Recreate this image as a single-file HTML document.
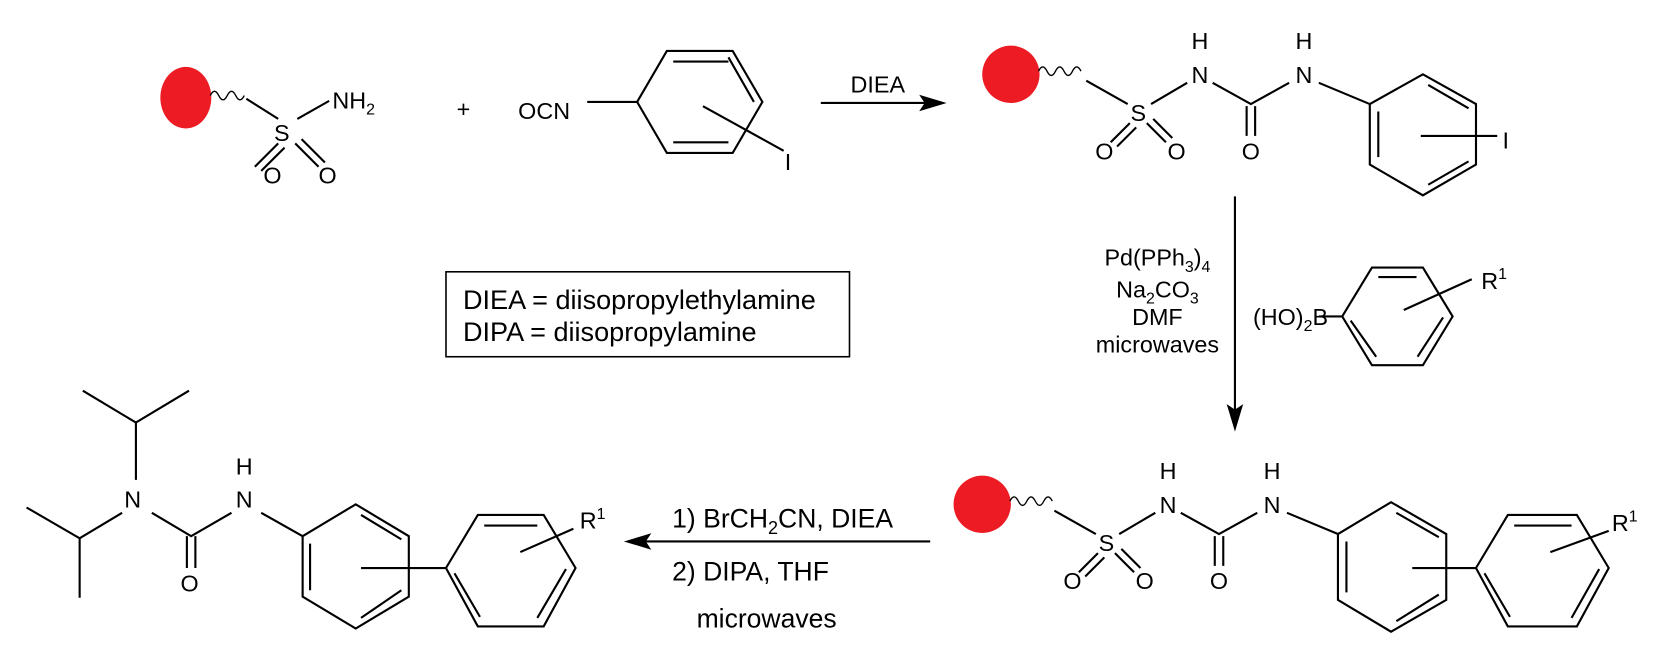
<!DOCTYPE html>
<html><head><meta charset="utf-8"><style>
html,body{margin:0;padding:0;background:#fff}
svg{display:block}
text{font-family:"Liberation Sans",Arial,sans-serif;font-size:22px;fill:#000}
.s{font-size:15px}
text.b,.b text{font-size:25px}
.bx text{font-size:25.5px}
.b .s{font-size:17px}
</style></head><body>
<svg width="1665" height="671" viewBox="0 0 1568 632" preserveAspectRatio="none" xmlns="http://www.w3.org/2000/svg" stroke="#000" stroke-width="2" fill="none">
<g fill="#ed1c24" stroke="none">
<ellipse cx="175" cy="92" rx="24" ry="29"/>
<circle cx="952" cy="70" r="27"/>
<circle cx="925" cy="475" r="27"/>
</g>
<path stroke-width="1.3" d="M198 90 q4 -8 8 0 q4 8 8 0 q4 -8 8 0 q4 8 8 0 M978 67 q4 -8 8 0 q4 8 8 0 q4 -8 8 0 q4 8 8 0 q4 -8 8 0 M951 472 q4 -8 8 0 q4 8 8 0 q4 -8 8 0 q4 8 8 0 q4 -8 8 0"/>
<path d="M232 93 L262 112 M280 112 L310 95 M262 135 L240 157 M268 139 L246 161 M278 135 L300 157 M284 131 L306 153"/>
<g stroke="none" fill="#000">
<text x="258" y="133">S</text>
<text x="313" y="102">NH<tspan class="s" dy="6">2</tspan></text>
<text x="248" y="173">O</text>
<text x="300" y="173">O</text>
<text x="430" y="110">+</text>
<text x="488" y="112">OCN</text>
<text x="801" y="87">DIEA</text>
<text x="739" y="160">I</text>
</g>
<path d="M553 96 L600 96"/>
<path d="M600 96 L628 48 L690 48 L718 96 L690 144 L628 144 Z M634 58 L686 58 M710 96 L686 54 M686 134 L634 134 M662 100 L738 142"/>
<path d="M773 97 L875 97"/><path d="M888 97 L868 91 L872 97 L868 103 Z" fill="#000"/>
<g id="chain">
<path d="M1023 76 L1062 98 M1084 98 L1118 78 M1142 78 L1178 98 L1214 78 M1242 78 L1290 98 M1064 116 L1046 134 M1070 120 L1052 138 M1080 116 L1098 134 M1086 112 L1104 130 M1174 100 L1174 128 M1182 100 L1182 128"/>
<g stroke="none" fill="#000" text-anchor="middle">
<text x="1072" y="114">S</text>
<text x="1130" y="78">N</text><text x="1130" y="46">H</text>
<text x="1228" y="78">N</text><text x="1228" y="46">H</text>
<text x="1040" y="150">O</text><text x="1108" y="150">O</text><text x="1178" y="150">O</text>
</g>
</g>
<g stroke="none" fill="#000"><text x="1415" y="140">I</text></g>
<path d="M1290 98 L1340 70 L1390 98 L1390 155 L1340 184 L1290 155 Z M1298 105 L1298 148 M1345 80 L1383 102 M1383 152 L1345 174 M1338 128 L1410 128"/>
<path d="M1163 185 L1163 390"/><path d="M1163 403 L1157 383 L1163 387 L1169 383 Z" fill="#000"/>
<g stroke="none" fill="#000" text-anchor="middle">
<text x="1090" y="250">Pd(PPh<tspan class="s" dy="6">3</tspan><tspan dy="-6">)</tspan><tspan class="s" dy="6">4</tspan></text>
<text x="1090" y="280">Na<tspan class="s" dy="6">2</tspan><tspan dy="-6">CO</tspan><tspan class="s" dy="6">3</tspan></text>
<text x="1090" y="306">DMF</text>
<text x="1090" y="332">microwaves</text>
</g>
<g stroke="none" fill="#000">
<text x="1180" y="306">(HO)<tspan class="s" dy="6">2</tspan><tspan dy="-6">B</tspan></text>
<text x="1395" y="272">R<tspan class="s" dy="-9">1</tspan></text>
</g>
<path d="M1242 298 L1264 298 M1264 298 L1292 252 L1340 252 L1368 298 L1340 344 L1292 344 Z M1298 261 L1334 261 M1359 299 L1335 336 M1272 302 L1296 336 M1322 292 L1386 263"/>
<rect x="420" y="256" width="380" height="80" stroke-width="1.5"/>
<g stroke="none" fill="#000" class="bx">
<text x="436" y="291">DIEA = diisopropylethylamine</text>
<text x="436" y="321">DIPA = diisopropylamine</text>
</g>
<use href="#chain" transform="translate(-30,405)"/>
<g stroke="none" fill="#000">
<text x="1518" y="500">R<tspan class="s" dy="-9">1</tspan></text>
</g>
<path d="M1260 503 L1310 473 L1362 503 L1362 565 L1310 595 L1260 565 Z M1268 510 L1268 558 M1315 483 L1355 506 M1355 560 L1315 585 M1330 535 L1390 535 M1390 535 L1420 485 L1485 485 L1515 535 L1485 590 L1420 590 Z M1426 495 L1480 495 M1506 536 L1480 582 M1398 540 L1422 581 M1460 520 L1515 500"/>
<path d="M876 510 L605 510"/><path d="M591 510 L611 504 L607 510 L611 516 Z" fill="#000"/>
<g stroke="none" fill="#000" class="b">
<text x="633" y="497">1) BrCH<tspan class="s" dy="6">2</tspan><tspan dy="-6">CN, DIEA</tspan></text>
<text x="633" y="547">2) DIPA, THF</text>
<text x="656" y="591">microwaves</text>
</g>
<path d="M78 368 L128 398 L178 368 M128 398 L128 452 M115 483 L75 507 L25 478 M75 507 L75 563 M143 483 L180 505 L218 483 M176 505 L176 535 M184 505 L184 535 M246 483 L285 505 M285 505 L335 475 L385 505 L385 562 L335 592 L285 562 Z M292 512 L292 556 M340 485 L378 508 M378 556 L340 582 M340 535 L420 535 M420 535 L450 485 L512 485 L542 535 L512 590 L450 590 Z M456 495 L506 495 M533 536 L506 582 M428 540 L452 581 M490 520 L540 498"/>
<g stroke="none" fill="#000">
<text x="117" y="478">N</text>
<text x="222" y="478">N</text><text x="222" y="447">H</text>
<text x="170" y="557">O</text>
<text x="546" y="498">R<tspan class="s" dy="-9">1</tspan></text>
</g>
</svg>
</body></html>
